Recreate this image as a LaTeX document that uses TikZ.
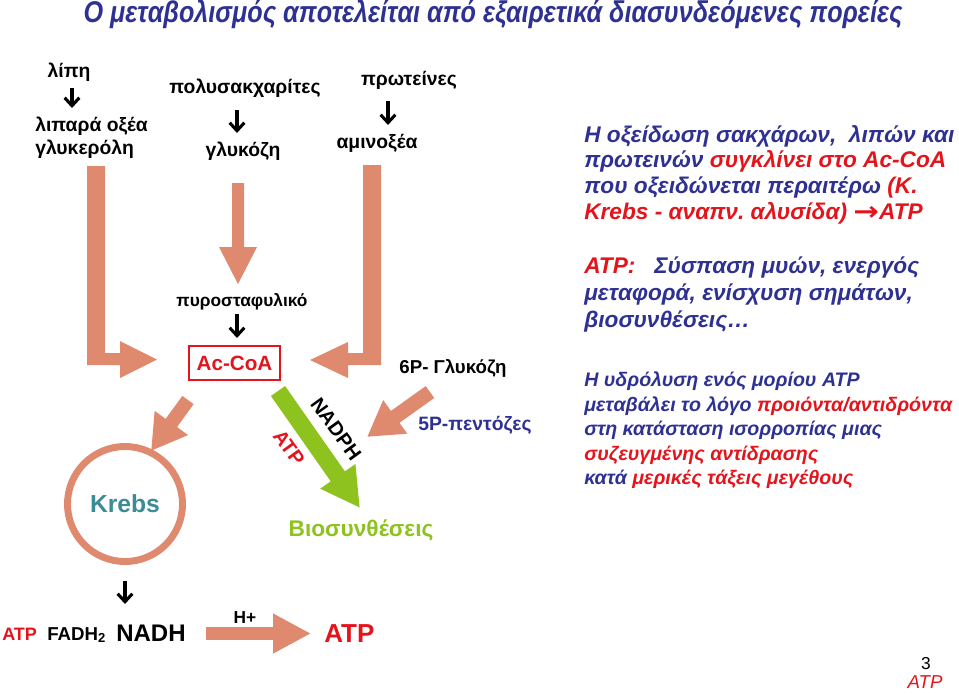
\documentclass[tikz,border=0pt]{standalone}
\usepackage{fontspec}
\setmainfont{Liberation Sans}
\newfontfamily\titlefont[FakeStretch=0.84]{Liberation Sans}
\newfontfamily\arrowfont{DejaVu Sans}
\usetikzlibrary{arrows.meta}
\definecolor{dblue}{HTML}{2E3192}
\definecolor{dred}{HTML}{E3141B}
\definecolor{salmon}{HTML}{DF8A6F}
\definecolor{lgreen}{HTML}{8DC21F}
\definecolor{krebsc}{HTML}{3B8C96}
\frenchspacing
\begin{document}
\begin{tikzpicture}[x=0.75pt,y=-0.75pt,
  lbl/.style={inner sep=0pt, font=\bfseries\fontsize{14.5}{17}\selectfont},
  rl/.style={anchor=base west, inner sep=0pt, text=dblue, font=\bfseries\itshape\fontsize{17}{19}\selectfont},
  rs/.style={anchor=base west, inner sep=0pt, text=dblue, font=\bfseries\itshape\fontsize{14.7}{18}\selectfont},
  small arrow/.style={line width=2.3pt, -{Straight Barb[length=6pt,width=11pt,line width=2.3pt]}},
  bent/.style={fill=salmon, draw=none},
  block/.style={draw=salmon, line width=#1, -{Triangle[length=26pt,width=29pt]}},
  block/.default=10pt
]
\useasboundingbox (0,0) rectangle (959,694);

% title
\node[inner sep=0pt, text=dblue, font=\titlefont\bfseries\itshape\fontsize{22.5}{26}\selectfont] (title) at (493,14) {Ο μεταβολισμός αποτελείται από εξαιρετικά διασυνδεόμενες πορείες};

% top left sources
\node[lbl] (lipi) at (69,72) {λίπη};
\node[lbl, align=left, anchor=west] (lipara) at (35,138) {λιπαρά οξέα\\[0pt]γλυκερόλη};
\node[lbl] (poly) at (245,88) {πολυσακχαρίτες};
\node[lbl] (gluc) at (243,151) {γλυκόζη};
\node[lbl] (prot) at (409,80) {πρωτείνες};
\node[lbl] (amino) at (377,143) {αμινοξέα};

\coordinate (a1s) at (72,88); \coordinate (a1e) at (72,108);
\coordinate (a2s) at (237,110); \coordinate (a2e) at (237,133);
\coordinate (a3s) at (388,101); \coordinate (a3e) at (388,125);
\draw[small arrow] (a1s) -- (a1e);
\draw[small arrow] (a2s) -- (a2e);
\draw[small arrow] (a3s) -- (a3e);

% big bent arrows
\fill[bent] (87,166) -- (105,166) -- (105,353) -- (120,353) -- (120,341) -- (157,359.5) -- (120,378) -- (120,365) -- (87,365) -- cycle;
\fill[bent] (381,165) -- (363,165) -- (363,353) -- (348,353) -- (348,342) -- (310,360) -- (348,378) -- (348,365) -- (381,365) -- cycle;
% middle arrow
\fill[bent] (232,183) -- (244,183) -- (244,247) -- (257,247) -- (238,284) -- (219,247) -- (232,247) -- cycle;

\node[inner sep=0pt, font=\bfseries\fontsize{13}{15}\selectfont] (pyro) at (242,302) {πυροσταφυλικό};
\coordinate (a4s) at (237,314); \coordinate (a4e) at (237,338);
\draw[small arrow] (a4s) -- (a4e);

\node[draw=dred, line width=1.6pt, text=dred, minimum width=68pt, minimum height=25.5pt, inner sep=0pt, font=\bfseries\fontsize{15.5}{18}\selectfont] (acoa) at (234.5,363) {Ac-CoA};

% Krebs
\node[circle, draw=salmon, line width=5.2pt, minimum size=86.25pt, inner sep=0pt, text=krebsc, font=\bfseries\fontsize{18.5}{22}\selectfont] (krebs) at (125,504) {Krebs};

\coordinate (k1s) at (188,400); \coordinate (k1e) at (151,451);
\draw[block=10.5pt] (k1s) -- (k1e);

% 6P glucose
\node[inner sep=0pt, font=\bfseries\fontsize{14}{17}\selectfont] (g6p) at (453,368) {6P- Γλυκόζη};
\node[inner sep=0pt, text=dblue, font=\bfseries\fontsize{14.5}{17}\selectfont] (p5) at (475,425) {5P-πεντόζες};
\coordinate (g1s) at (430,392); \coordinate (g1e) at (367,437);
\draw[block=11pt] (g1s) -- (g1e);

% green arrow
\coordinate (gr1) at (278,391); \coordinate (gr2) at (360,508);
\draw[lgreen, line width=13pt, -{Triangle[length=29pt,width=30pt]}] (gr1) -- (gr2);
\node[inner sep=0pt, rotate=-54, font=\bfseries\fontsize{15}{17}\selectfont] (nadph) at (336,429) {NADPH};
\node[inner sep=0pt, rotate=-54, text=dred, font=\bfseries\fontsize{15}{17}\selectfont] (atpg) at (289,448) {ATP};
\node[inner sep=0pt, text=lgreen, font=\bfseries\fontsize{17}{20}\selectfont] (bio) at (361,530) {Βιοσυνθέσεις};

% bottom row
\coordinate (a5s) at (125,581); \coordinate (a5e) at (125,604);
\draw[small arrow] (a5s) -- (a5e);
\node[inner sep=0pt, anchor=base west, text=dred, font=\bfseries\fontsize{13.5}{16}\selectfont] (atp1) at (2,640) {ATP};
\node[inner sep=0pt, anchor=base west, font=\bfseries\fontsize{14}{16}\selectfont] (fadh) at (47,640) {FADH\textsubscript{2}};
\node[inner sep=0pt, anchor=base west, font=\bfseries\fontsize{18}{20}\selectfont] (nadh) at (116,641) {NADH};
\coordinate (b1s) at (206,633.5); \coordinate (b1e) at (311,633.5);
\draw[salmon, line width=10pt, -{Triangle[length=28.5pt,width=28pt]}] (b1s) -- (b1e);
\node[inner sep=0pt, font=\bfseries\fontsize{13}{15}\selectfont] (hplus) at (245,618) {H+};
\node[inner sep=0pt, anchor=base west, text=dred, font=\bfseries\fontsize{19.5}{22}\selectfont] (atp2) at (324,642) {ATP};

% right text paragraph 1
\node[rl] (p1a) at (584,142) {Η οξείδωση σακχάρων,\ \ λιπών και};
\node[rl] (p1b) at (584,167.5) {πρωτεινών \textcolor{dred}{συγκλίνει στο Ac-CoA}};
\node[rl] (p1c) at (584,193.5) {που οξειδώνεται περαιτέρω \textcolor{dred}{(Κ.}};
\node[rl, text=dred] (p1d) at (584,219.5) {Krebs - αναπν. αλυσίδα) \raisebox{-0.5pt}{\scalebox{1.35}[1.15]{\arrowfont\bfseries\upshape →}}ATP};
% paragraph 2
\node[rl] (p2a) at (584,273) {\textcolor{dred}{ATP:}\ \ \ Σύσπαση μυών, ενεργός};
\node[rl] (p2b) at (584,300) {μεταφορά, ενίσχυση σημάτων,};
\node[rl] (p2c) at (584,327) {βιοσυνθέσεις…};
% paragraph 3
\node[rs] (p3a) at (584,386) {Η υδρόλυση ενός μορίου ATP};
\node[rs] (p3b) at (584,411) {μεταβάλει το λόγο \textcolor{dred}{προιόντα/αντιδρόντα}};
\node[rs] (p3c) at (584,435.5) {στη κατάσταση ισορροπίας μιας};
\node[rs, text=dred] (p3d) at (584,460) {συζευγμένης αντίδρασης};
\node[rs] (p3e) at (584,484.5) {κατά \textcolor{dred}{μερικές τάξεις μεγέθους}};

% page number
\node[inner sep=0pt, font=\fontsize{13}{15}\selectfont] (pnum) at (926,664) {3};
\node[inner sep=0pt, text=dred, font=\itshape\fontsize{14}{16}\selectfont] (patp) at (925,682) {ATP};
\end{tikzpicture}
\end{document}
